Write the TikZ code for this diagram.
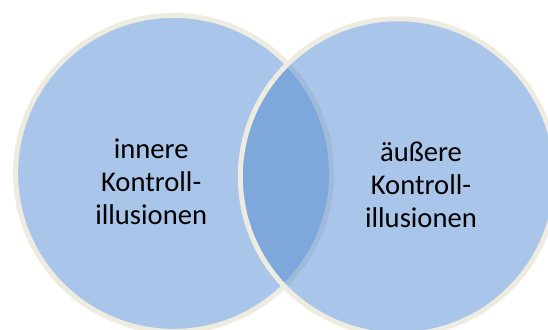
\documentclass[tikz,border=0pt]{standalone}
\usepackage{fontspec}
\setmainfont{Carlito}
\definecolor{setfill}{RGB}{169,198,234}
\definecolor{lensfill}{RGB}{126,168,220}
\definecolor{ringcol}{RGB}{238,236,225}
\definecolor{hiddenring}{RGB}{160,186,220}
\tikzset{
  ring/.style={draw=ringcol, line width=5pt},
  label/.style={align=center, font=\fontsize{28.6}{33}\selectfont, text=black, inner sep=0pt}
}
\begin{document}
\begin{tikzpicture}[x=1pt,y=1pt]
  \useasboundingbox (0,0) rectangle (548,329);
  \clip (0,0) rectangle (548,329);
  % centres of the two sets
  \coordinate (cl) at (173.6,155.6);
  \coordinate (cr) at (398.3,152.2);
  \def\rad{158}
  % left set
  \fill[setfill] (cl) circle[radius=\rad];
  \draw[ring] (cl) circle[radius=\rad];
  % right set
  \fill[setfill] (cr) circle[radius=\rad];
  % overlap
  \begin{scope}
    \clip (cl) circle[radius=\rad];
    \fill[lensfill] (cr) circle[radius=\rad];
  \end{scope}
  % left outline seen through the right set
  \begin{scope}
    \clip (cr) circle[radius=\rad];
    \draw[draw=hiddenring, line width=5pt] (cl) circle[radius=\rad];
  \end{scope}
  \draw[ring] (cr) circle[radius=\rad];
  % labels
  \node[label] (inner) at (151.2,147.2) {innere\\Kontroll-\\illusionen};
  \node[label] (outer) at (421,143.7) {äußere\\Kontroll-\\illusionen};
\end{tikzpicture}
\end{document}
